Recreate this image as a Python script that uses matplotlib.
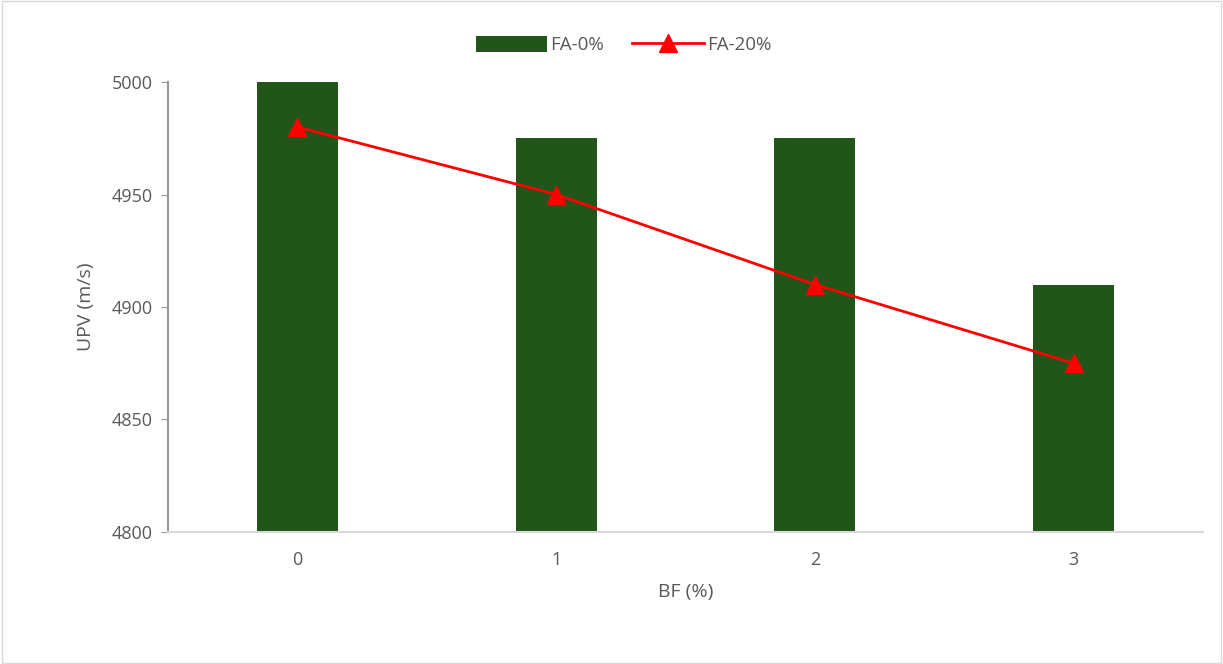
"""UPV vs BF bar + line chart"""

import numpy as np
from matplotlib import pyplot as plt
from matplotlib.patches import Rectangle

# Data
bf_labels = ['0', '1', '2', '3']
upv_fa0 = [5000, 4975, 4975, 4910]
upv_fa20 = [4980, 4950, 4910, 4875]

grey_text = '#595959'

plt.rcParams['font.family'] = ['Open Sans', 'DejaVu Sans']

fig = plt.figure(figsize=(12.23, 6.64), dpi=100)
ax = fig.add_axes([0.1374, 0.1988, 0.8462, 0.6777])

x = np.arange(len(bf_labels))

# Bars and line
bars = ax.bar(x, upv_fa0, width=0.313, color='#215519', label='FA-0%', zorder=2)
line, = ax.plot(x, upv_fa20, color='#ff0000', linewidth=2, marker='^',
                markersize=13, label='FA-20%', zorder=3)

# Axis limits and ticks
ax.set_xlim(-0.5, len(bf_labels) - 0.5)
ax.set_ylim(4800, 5000)
ax.set_yticks(np.arange(4800, 5001, 50))
ax.set_xticks(x)
ax.set_xticklabels(bf_labels)
ax.tick_params(axis='y', length=5, color='#999999', labelsize=13,
               labelcolor=grey_text, pad=6)
ax.tick_params(axis='x', length=0, labelsize=13, labelcolor=grey_text, pad=14)

# Frame
ax.spines['top'].set_visible(False)
ax.spines['right'].set_visible(False)
ax.spines['left'].set_color('#999999')
ax.spines['left'].set_linewidth(1.5)
ax.spines['bottom'].set_color('#d9d9d9')
ax.spines['bottom'].set_linewidth(1.5)

# Labels
ax.set_xlabel('BF (%)', fontsize=14, color=grey_text, labelpad=10)
ax.set_ylabel('UPV (m/s)', fontsize=14, color=grey_text, labelpad=12)

# Legend on top
fig.legend(handles=[bars, line], loc='center', bbox_to_anchor=(0.51, 0.932),
           ncol=2, frameon=False, fontsize=13.5, labelcolor=grey_text,
           handlelength=3.8, handleheight=0.9, columnspacing=1.5,
           handletextpad=0.2)

# Chart border
fig.patches.append(Rectangle((0.002, 0.002), 0.996, 0.996, transform=fig.transFigure,
                             fill=False, edgecolor='#d9d9d9', linewidth=1))

fig.savefig('out.png', dpi=100)
